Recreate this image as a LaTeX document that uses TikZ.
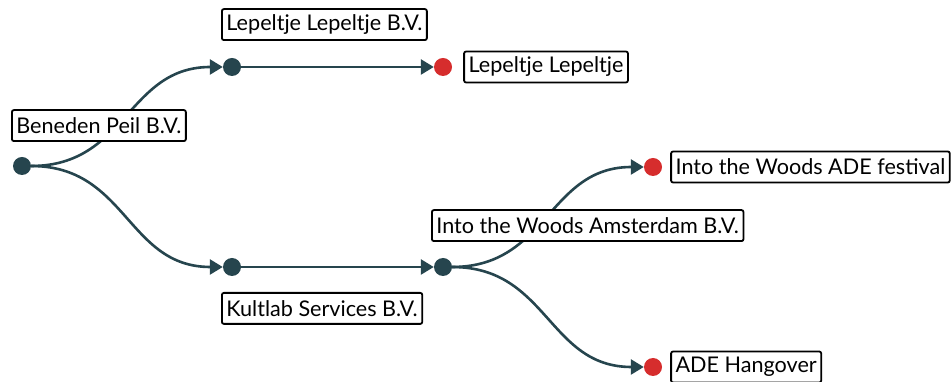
\documentclass[tikz,border=0pt]{standalone}
\usepackage{fontspec}
\setmainfont{Lato}
\usepackage{xcolor}
\usepackage{tikz}
\usetikzlibrary{arrows.meta,positioning}
\definecolor{slate}{RGB}{38,69,78}
\definecolor{leafred}{RGB}{214,45,45}
\tikzstyle{dot} = [circle, fill=slate, minimum size=18pt, inner sep=0pt]
\tikzstyle{leaf} = [dot, fill=leafred]
\tikzstyle{tag} = [rectangle, draw=black, line width=1.8pt, rounded corners=2pt, fill=white, minimum height=31pt, inner xsep=4.5pt, inner ysep=0pt, font=\fontsize{21.6}{24}\selectfont]
\tikzstyle{link} = [->, draw=slate, line width=2.6pt]
\newcommand{\Sway}[2]{\draw[link] (#1) .. controls +(105pt,0pt) and +(-105pt,0pt) .. (#2);}

\begin{document}
\begin{tikzpicture}[x=1pt, y=1pt, >={Triangle[length=13pt, width=15pt]}]
	\useasboundingbox (0,0) rectangle (952,382);
	% entities
	\node[dot] (root) at (22,216) {};
	\node[dot] (lbv) at (232,315) {};
	\node[leaf] (ll) [right of=lbv, node distance=211pt] {};
	\node[dot] (kult) at (232,115) {};
	\node[dot] (itwa) [right of=kult, node distance=211pt] {};
	\node[leaf] (itwf) at (653,215) {};
	\node[leaf] (adeh) at (653,15) {};
	% ownership
	\Sway{root}{lbv}
	\Sway{root}{kult}
	\draw[link] (lbv) -- (ll);
	\draw[link] (kult) -- (itwa);
	\Sway{itwa}{itwf}
	\Sway{itwa}{adeh}
	% names
	\node[tag, anchor=south west] (rootT) at ([xshift=-11pt, yshift=24pt]root.center) {Beneden Peil B.V.};
	\node[tag, anchor=south west] (lbvT) at ([xshift=-11pt, yshift=26pt]lbv.center) {Lepeltje Lepeltje B.V.};
	\node[tag, anchor=west] (llT) [right=11pt of ll] {Lepeltje Lepeltje};
	\node[tag, anchor=north west] (kultT) at ([xshift=-11pt, yshift=-25pt]kult.center) {Kultlab Services B.V.};
	\node[tag, anchor=south west] (itwaT) at ([xshift=-12pt, yshift=25pt]itwa.center) {Into the Woods Amsterdam B.V.};
	\node[tag, anchor=west] (itwfT) [right=8pt of itwf] {Into the Woods ADE festival};
	\node[tag, anchor=west] (adehT) [right=8pt of adeh] {ADE Hangover};
\end{tikzpicture}
\end{document}
